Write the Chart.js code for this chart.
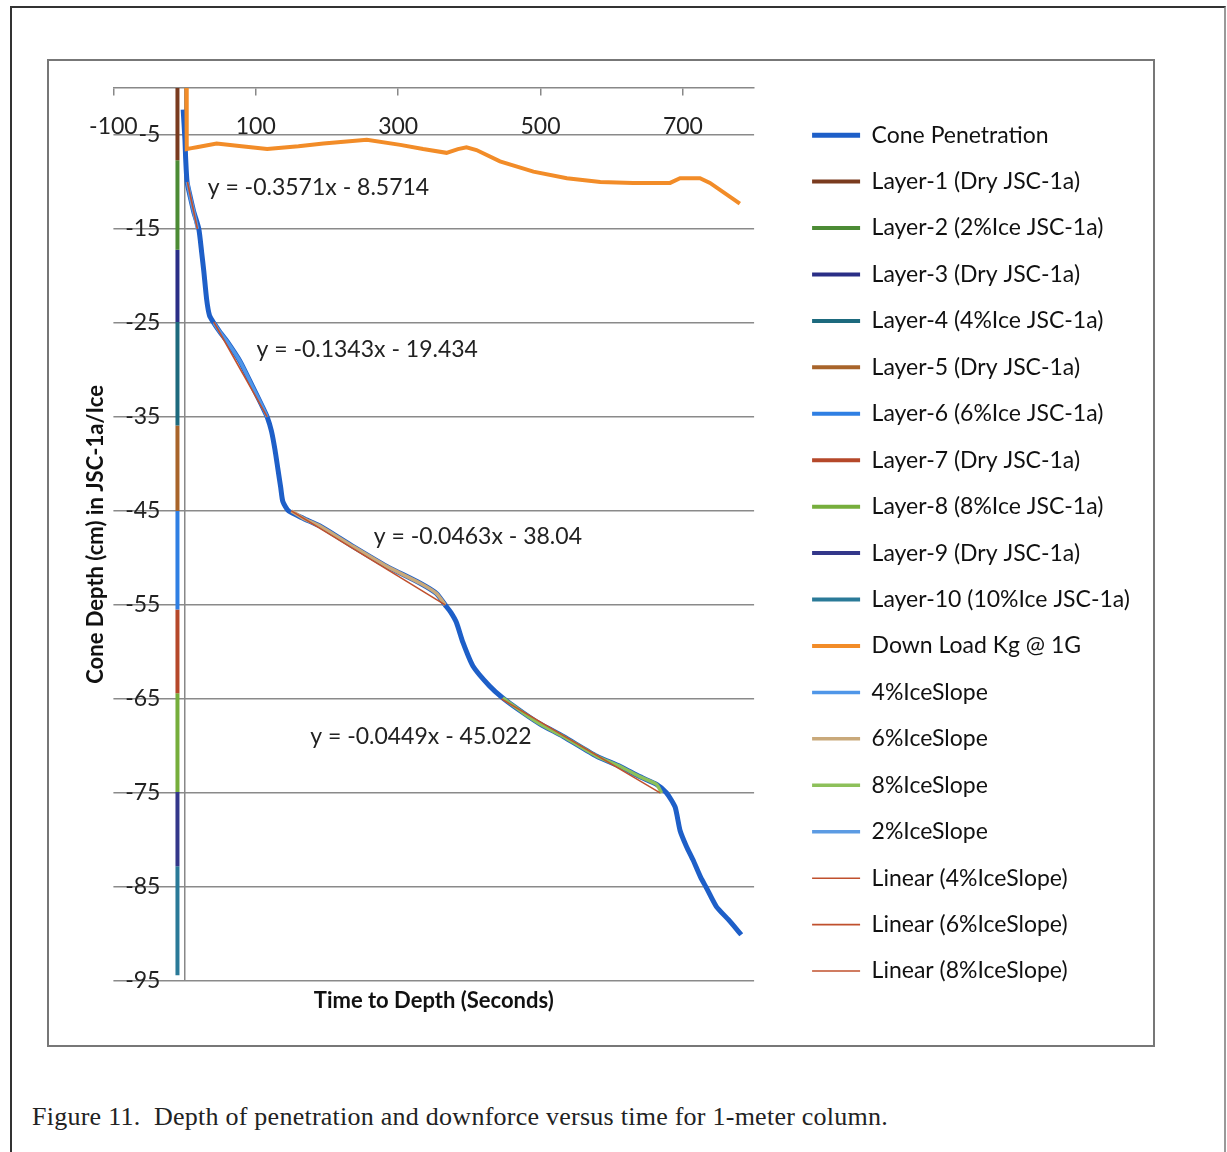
<!DOCTYPE html>
<html>
<head>
<meta charset="utf-8">
<script src="https://cdn.jsdelivr.net/npm/chart.js@4.4.1/dist/chart.umd.min.js"></script>
<style>
html,body{margin:0;padding:0;background:#fff;}
body{width:1227px;height:1152px;position:relative;overflow:hidden;}
#frame{position:absolute;left:10px;top:6px;width:1212px;height:1180px;border-top:2px solid #333;border-left:2px solid #333;border-right:2px solid #999;}
#box{position:absolute;left:47px;top:59px;width:1104px;height:984px;border:2px solid #777;background:#fff;}
#caption{position:absolute;left:32px;top:1102px;font-family:"Liberation Serif","Times New Roman",serif;font-size:26px;letter-spacing:0.25px;color:#222;white-space:pre;}
</style>
</head>
<body>
<div id="frame"></div>
<div id="box"><canvas id="c" width="1104" height="984"></canvas></div>
<div id="caption">Figure 11.  Depth of penetration and downforce versus time for 1-meter column.</div>
<script>
// ---------- data ----------
const xTicks = [-100, 100, 300, 500, 700];
const yTicks = [-95, -85, -75, -65, -55, -45, -35, -25, -15, -5];

const coneTime  = [-2, 0.5, 1.5, 3.5, 8, 13, 20, 24, 27, 31, 35, 41, 50, 60, 78, 97, 110, 116, 122, 127, 131, 135, 138, 146, 167, 190, 237, 284, 331, 354, 366, 374, 382, 391, 405, 428, 447, 476, 500, 532, 579, 612, 640, 663, 677, 689, 696, 705, 714, 725, 733, 747, 764, 782];
const coneDepth = [-2.3, -5.5, -7.5, -10, -11.6, -13.2, -15.0, -17.5, -19.5, -22.5, -24.2, -25.0, -26.0, -27.0, -29.1, -32.0, -34.0, -35.0, -36.5, -38.5, -40.5, -42.5, -44.0, -45.0, -45.8, -46.6, -48.8, -50.9, -52.7, -53.8, -55.0, -55.8, -56.9, -59.0, -61.5, -63.6, -64.9, -66.5, -67.7, -69.0, -71.1, -72.2, -73.3, -74.1, -75.0, -76.5, -79.0, -80.7, -82.1, -84.0, -85.1, -87.1, -88.5, -90.1];

const loadTime = [2.5, 3, 10, 17, 45, 80, 116, 160, 195, 256, 303, 335, 368, 384, 396, 410, 443, 490, 537, 584, 630, 682, 696, 724, 738, 780];
const loadKg   = [0, -6.5, -6.4, -6.3, -5.9, -6.2, -6.5, -6.2, -5.9, -5.5, -6.05, -6.5, -6.9, -6.5, -6.3, -6.6, -7.8, -8.9, -9.6, -10.0, -10.1, -10.1, -9.6, -9.6, -10.1, -12.3];

const layerNames  = ['Layer-1 (Dry JSC-1a)', 'Layer-2 (2%Ice JSC-1a)', 'Layer-3 (Dry JSC-1a)', 'Layer-4 (4%Ice JSC-1a)', 'Layer-5 (Dry JSC-1a)', 'Layer-6 (6%Ice JSC-1a)', 'Layer-7 (Dry JSC-1a)', 'Layer-8 (8%Ice JSC-1a)', 'Layer-9 (Dry JSC-1a)', 'Layer-10 (10%Ice JSC-1a)'];
const layerTop    = [0, -7.7, -17.2, -24.9, -35.9, -45.0, -55.5, -64.4, -74.9, -82.8];
const layerBottom = [-7.7, -17.2, -24.9, -35.9, -45.0, -55.5, -64.4, -74.9, -82.8, -94.4];
const layerTime   = -10;

const slope4Time  = [41, 50, 60, 78, 97, 110, 116];
const slope4Depth = [-25.0, -26.0, -27.0, -29.1, -32.0, -34.0, -35.0];
const slope6Time  = [150, 167, 190, 237, 284, 331, 354, 366];
const slope6Depth = [-45.0, -45.8, -46.6, -48.8, -50.9, -52.7, -53.8, -55.0];
const slope8Time  = [447, 476, 500, 532, 579, 612, 640, 663, 670];
const slope8Depth = [-64.9, -66.5, -67.7, -69.0, -71.1, -72.2, -73.3, -74.1, -75.0];
const slope2Time  = [4, 8, 13, 18];
const slope2Depth = [-10.0, -11.6, -13.2, -15.0];

const trendNames     = ['Linear (4%IceSlope)', 'Linear (6%IceSlope)', 'Linear (8%IceSlope)', 'Linear (2%IceSlope)'];
const trendTime      = [[41, 116], [150, 366], [445, 668], [4, 18]];
const trendDepth     = [[-24.9, -35.0], [-45.0, -55.0], [-65.0, -75.0], [-10.0, -15.0]];
const trendEquations = ['y = -0.1343x - 19.434', 'y = -0.0463x - 38.04', 'y = -0.0449x - 45.022', 'y = -0.3571x - 8.5714'];

// ---------- styling ----------
const FONT = 'Lato';
const layerColors = ['#7A3B1F', '#4C8B35', '#2A2E86', '#1D6A7E', '#A8642A', '#2F7FE3', '#B5482A', '#76AE3C', '#33378A', '#2A7A98'];
const trendColor = '#C0502D';
const eqAnchors = [[256.5, -27.8], [412, -47.7], [332, -69.0], [188, -10.6]];

const pts = (xs, ys) => xs.map((x, i) => ({x: x, y: ys[i]}));

const datasets = [];
datasets.push({label: 'Cone Penetration', data: pts(coneTime, coneDepth), borderColor: '#1E5FC8', backgroundColor: '#1E5FC8', borderWidth: 5, tension: 0.2, order: 10});
layerNames.forEach((n, i) => {
  datasets.push({label: n, data: pts([layerTime, layerTime], [layerTop[i], layerBottom[i]]), borderColor: layerColors[i], backgroundColor: layerColors[i], borderWidth: 4, order: 9});
});
datasets.push({label: 'Down Load Kg @ 1G', data: pts(loadTime, loadKg), borderColor: '#F28C28', backgroundColor: '#F28C28', borderWidth: 4, order: 8});
datasets.push({label: '4%IceSlope', data: pts(slope4Time, slope4Depth), borderColor: '#4F96E8', backgroundColor: '#4F96E8', borderWidth: 3.5, tension: 0.2, order: 5});
datasets.push({label: '6%IceSlope', data: pts(slope6Time, slope6Depth), borderColor: '#C9A97A', backgroundColor: '#C9A97A', borderWidth: 3.5, tension: 0.2, order: 5});
datasets.push({label: '8%IceSlope', data: pts(slope8Time, slope8Depth), borderColor: '#8DC05A', backgroundColor: '#8DC05A', borderWidth: 3.5, tension: 0.2, order: 5});
datasets.push({label: '2%IceSlope', data: pts(slope2Time, slope2Depth), borderColor: '#5C9BE3', backgroundColor: '#5C9BE3', borderWidth: 3.5, tension: 0.2, order: 5});
trendNames.forEach((n, i) => {
  datasets.push({label: n, data: pts(trendTime[i], trendDepth[i]), borderColor: trendColor, backgroundColor: trendColor, borderWidth: 1.6, order: 1});
});

const eqPlugin = {
  id: 'eqLabels',
  afterDatasetsDraw(chart) {
    const ctx = chart.ctx, sx = chart.scales.x, sy = chart.scales.y;
    ctx.save();
    ctx.font = '23px ' + FONT;
    ctx.fillStyle = '#222';
    ctx.textAlign = 'center';
    ctx.textBaseline = 'middle';
    trendEquations.forEach((t, i) => {
      ctx.fillText(t, sx.getPixelForValue(eqAnchors[i][0]), sy.getPixelForValue(eqAnchors[i][1]));
    });
    ctx.restore();
  }
};

Chart.defaults.font.family = FONT;
Chart.defaults.color = '#222';

new Chart(document.getElementById('c'), {
  type: 'line',
  data: {datasets: datasets},
  plugins: [eqPlugin],
  options: {
    responsive: false,
    animation: false,
    elements: {point: {radius: 0, hoverRadius: 0}, line: {borderCapStyle: 'butt'}},
    layout: {padding: {left: 30, top: 27, right: 13, bottom: 26.8}},
    plugins: {
      tooltip: {enabled: false},
      legend: {
        position: 'right',
        maxWidth: 600,
        labels: {
          usePointStyle: true,
          pointStyle: 'line',
          pointStyleWidth: 48,
          padding: 23.44,
          color: '#111',
          font: {family: FONT, size: 23},
          sort: (a, b) => a.datasetIndex - b.datasetIndex,
          filter: (item) => item.text !== 'Linear (2%IceSlope)'
        }
      }
    },
    scales: {
      x: {
        type: 'linear', axis: 'x', position: {y: 0}, min: -100, max: 800,
        afterBuildTicks: (s) => { s.ticks = xTicks.map(v => ({value: v})); },
        grid: {drawOnChartArea: false, drawTicks: true, tickLength: 7, color: '#888', lineWidth: 1.5},
        border: {display: true, color: '#888', width: 1.5},
        ticks: {padding: 18, autoSkip: false, maxRotation: 0, font: {family: FONT, size: 23}, color: '#222'}
      },
      y: {
        type: 'linear', axis: 'y', position: {x: -34}, min: -95, max: 0,
        afterBuildTicks: (s) => { s.ticks = yTicks.map(v => ({value: v})); },
        grid: {drawTicks: false, color: '#8a8a8a', lineWidth: 1.5},
        border: {display: false},
        ticks: {padding: 0, font: {family: FONT, size: 23}, color: '#222'}
      },
      yZero: {
        type: 'linear', axis: 'y', position: {x: 0}, min: -95, max: 0, display: true,
        ticks: {display: false}, grid: {display: false, drawTicks: false},
        border: {display: true, color: '#888', width: 1.5}
      },
      yt: {
        type: 'linear', axis: 'y', position: 'left', min: -95, max: 0, display: true,
        ticks: {display: false}, grid: {display: false, drawTicks: false}, border: {display: false},
        title: {display: true, text: 'Cone Depth (cm) in JSC-1a/Ice', color: '#111', font: {family: FONT, size: 22, weight: 'bold'}, padding: {top: 4, bottom: 4}}
      },
      xt: {
        type: 'linear', axis: 'x', position: 'bottom', min: -100, max: 800, display: true,
        ticks: {display: false}, grid: {display: false, drawTicks: false}, border: {display: false},
        title: {display: true, text: 'Time to Depth (Seconds)', color: '#111', font: {family: FONT, size: 22, weight: 'bold'}, padding: {top: 7, bottom: 4}}
      },
      ySpacer: {
        type: 'linear', axis: 'y', position: 'right', min: -95, max: 0, display: true,
        ticks: {display: false}, grid: {display: false, drawTicks: false}, border: {display: false},
        afterFit: (s) => { s.width = 34.56; }
      }
    }
  }
});
</script>
</body>
</html>
